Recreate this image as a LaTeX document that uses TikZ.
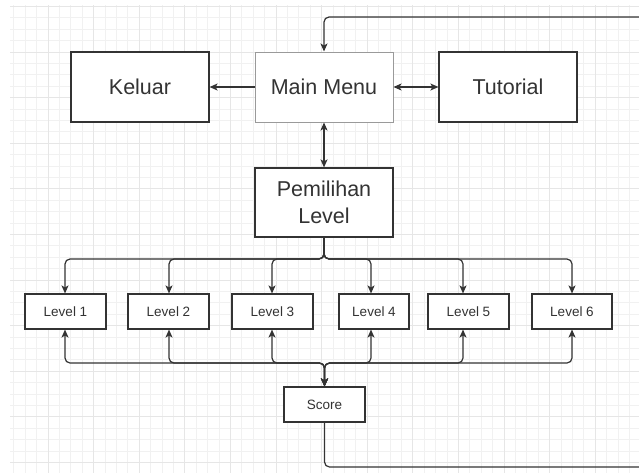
\documentclass[tikz,border=0pt]{standalone}
\usepackage{fontspec}
\setmainfont{Liberation Sans}
\usetikzlibrary{arrows.meta}
\definecolor{ink}{HTML}{333333}
\definecolor{txt}{HTML}{333333}
\definecolor{gminor}{HTML}{F1F1F1}
\definecolor{gmajor}{HTML}{E6E6E6}
\definecolor{mmborder}{HTML}{9A9A9A}
\tikzset{
  bigbox/.style={draw=ink, line width=1.2pt, fill=white, inner sep=0pt, text=txt,
    minimum width=138pt, minimum height=70pt, align=center,
    font=\fontsize{21.5}{27}\selectfont},
  lvlbox/.style={draw=ink, line width=1.1pt, fill=white, inner sep=0pt, text=txt,
    minimum width=81pt, minimum height=35pt,
    font=\fontsize{13.5}{16}\selectfont},
  conn/.style={draw=ink, line width=1.2pt, rounded corners=5pt},
  tip/.tip={Stealth[length=8pt,width=7pt,inset=2pt]},
}
\begin{document}
\begin{tikzpicture}[x=1pt,y=-1pt]
\useasboundingbox (0,0) rectangle (639,472);
\fill[white] (0,0) rectangle (639,472);
% grid
\begin{scope}
\clip (10,5) rectangle (639,472);
\foreach \i in {-4,...,52} \draw[gminor, line width=0.9pt] ({48+11.4*\i},0) -- ({48+11.4*\i},480);
\foreach \j in {-5,...,38} \draw[gminor, line width=0.9pt] (0,{52+11.4*\j}) -- (650,{52+11.4*\j});
\foreach \i in {-1,...,13} \draw[gmajor, line width=0.9pt] ({48+45.6*\i},0) -- ({48+45.6*\i},480);
\foreach \j in {-1,...,10} \draw[gmajor, line width=0.9pt] (0,{52+45.6*\j}) -- (650,{52+45.6*\j});
\end{scope}

% main nodes
\node[bigbox] (K) at (140,87) {Keluar};
\node[bigbox, draw=mmborder, line width=1pt] (M) at (324,87) {Main Menu};
\node[bigbox] (T) at (508,87) {Tutorial};
\node[bigbox, minimum height=69pt] (P) at (324,202.5) {Pemilihan\\Level};

% levels
\node[lvlbox] (L1) at (65.5,311.5) {Level 1};
\node[lvlbox] (L2) at (168.5,311.5) {Level 2};
\node[lvlbox] (L3) at (272.5,311.5) {Level 3};
\node[lvlbox, minimum width=70pt] (L4) at (374,311.5) {Level 4};
\node[lvlbox] (L5) at (468.5,311.5) {Level 5};
\node[lvlbox, minimum width=80pt] (L6) at (572,311.5) {Level 6};
\node[lvlbox] (S) at (324.5,404.5) {Score};

% branch coordinates
\coordinate (t1) at (65,259);
\coordinate (t2) at (169,259);
\coordinate (t3) at (272,259);
\coordinate (t4) at (371,259);
\coordinate (t5) at (463,259);
\coordinate (t6) at (572,259);
\coordinate (b1) at (65,363);
\coordinate (b2) at (169,363);
\coordinate (b3) at (272,363);
\coordinate (b4) at (371,363);
\coordinate (b5) at (463,363);
\coordinate (b6) at (572,363);
\coordinate (e1) at (680,467);
\coordinate (e2) at (680,17);

% top connections
\draw[conn, -{tip}] (M.west) -- (K.east);
\draw[conn, {tip}-{tip}] (M.east) -- (T.west);
\draw[conn, {tip}-{tip}] (M.south) -- (P.north);

% pemilihan to levels
\foreach \k in {1,...,6}
  \draw[conn, -{tip}] (P.south) |- (t\k) -- (t\k |- L\k.north);

% levels to score
\foreach \k in {1,...,6}
  \draw[conn, {tip}-{tip}] (b\k |- L\k.south) -- (b\k) -| (S.north);

% loop back to main menu
\draw[conn, -{tip}] (S.south) |- (e1) -- (e2) -| (M.north);
\end{tikzpicture}
\end{document}
